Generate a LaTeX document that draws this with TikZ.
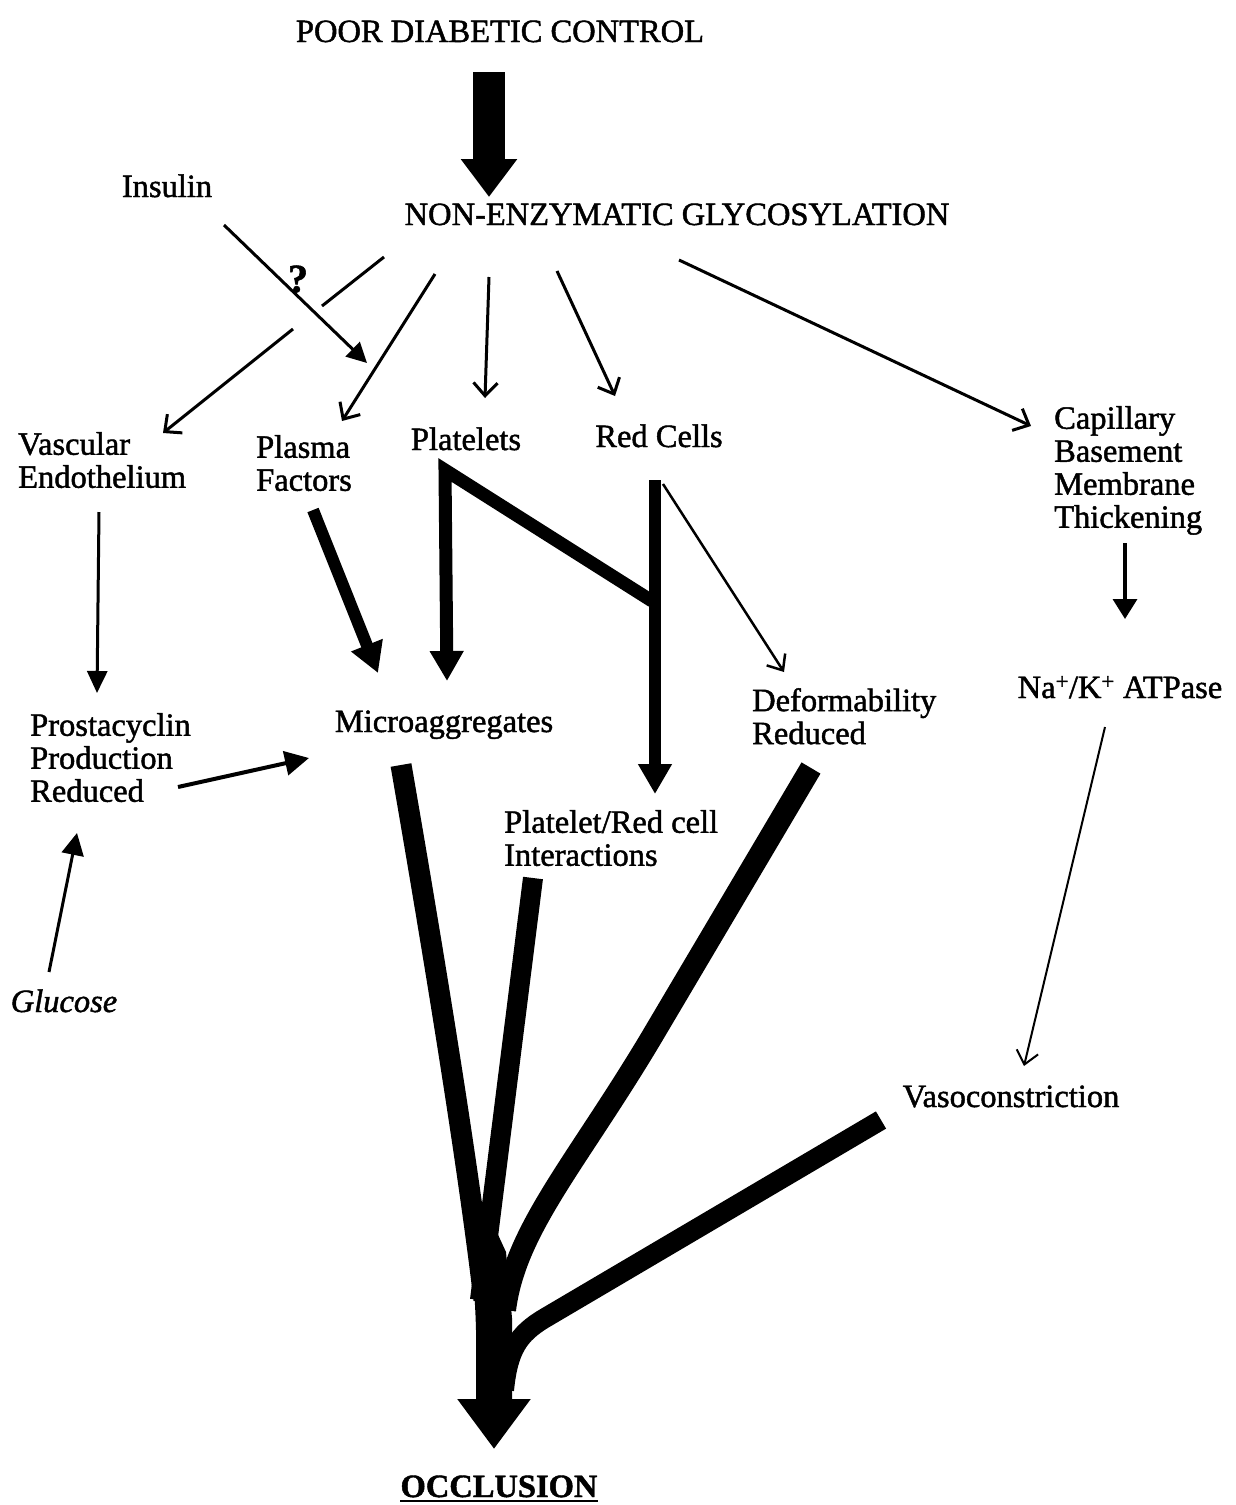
\documentclass[tikz,border=0pt]{standalone}
\usepackage{fontspec}
\setmainfont{Liberation Serif}
\newfontfamily\figfont{Liberation Serif}[FakeBold=1.4]
\usetikzlibrary{arrows.meta}
\begin{document}
\begin{tikzpicture}[x=1pt,y=-1pt,
  lbl/.style={inner sep=0pt, font=\figfont\fontsize{32.5}{33}\selectfont, align=left},
  itlbl/.style={lbl, font=\figfont\fontsize{32.5}{33}\selectfont\itshape},
  bflbl/.style={lbl, font=\figfont\fontsize{32.5}{33}\selectfont\bfseries},
  barb/.style={line width=3pt, -{Straight Barb[length=13pt,width=24pt]}},
  finebarb/.style={line width=2pt, -{Straight Barb[length=13pt,width=22pt]}},
  plain/.style={line width=3pt},
  solid/.style={line width=3pt, -{Triangle[length=22pt,width=20pt]}},
  heavy/.style={line width=12pt, line join=miter, -{Triangle[length=30pt,width=32pt]}},
  strand/.style={line width=21pt, line cap=butt, line join=round},
  bigarrow/.style={line width=32pt, -{Triangle[length=38pt,width=54pt]}},
]
\useasboundingbox (0,0) rectangle (1236,1505);

% ---- labels ----
\node[lbl, anchor=base] (poor) at (500,42) {POOR DIABETIC CONTROL};
\node[lbl, anchor=base] (neg) at (677,225) {NON-ENZYMATIC GLYCOSYLATION};
\node[lbl, anchor=base] (ins) at (167,197) {Insulin};
\node[bflbl, anchor=base, font=\figfont\fontsize{40}{40}\selectfont\bfseries] (qm) at (298,292) {?};
\node[lbl, anchor=north west] (vasc) at (18,432) {Vascular\\Endothelium};
\node[lbl, anchor=north west] (plasma) at (256,435) {Plasma\\Factors};
\node[lbl, anchor=base] (plat) at (466,450) {Platelets};
\node[lbl, anchor=base] (red) at (659,447) {Red Cells};
\node[lbl, anchor=north west] (cap) at (1054,406) {Capillary\\Basement\\Membrane\\Thickening};
\node[lbl, anchor=north west] (prost) at (30,713) {Prostacyclin\\Production\\Reduced};
\node[lbl, anchor=base] (micro) at (444,732) {Microaggregates};
\node[lbl, anchor=north west] (deform) at (752,688) {Deformability\\Reduced};
\node[lbl, anchor=base] (nak) at (1120,698) {Na\textsuperscript{+}/K\textsuperscript{+} ATPase};
\node[lbl, anchor=north west] (pri) at (504,810) {Platelet/Red cell\\Interactions};
\node[itlbl, anchor=base] (glu) at (64,1012) {Glucose};
\node[lbl, anchor=base] (vaso) at (1011,1107) {Vasoconstriction};
\node[bflbl, anchor=base] (occ) at (499,1497) {OCCLUSION};
\draw[line width=2.5pt] ([yshift=-4pt]occ.base west) -- ([yshift=-4pt]occ.base east);

% ---- connector end points ----
\coordinate (poor-out) at (489,72);
\coordinate (neg-in) at (489,197);
\coordinate (ins-out) at (224,225);
\coordinate (ins-in) at (367,363);
\coordinate (neg-vasc) at (384,257);
\coordinate (gap-a) at (322,306);
\coordinate (gap-b) at (293,329);
\coordinate (vasc-in) at (163,433);
\coordinate (neg-plasma) at (435,274);
\coordinate (plasma-in) at (342,421);
\coordinate (neg-plat) at (489,277);
\coordinate (plat-in) at (485,398);
\coordinate (neg-red) at (557,271);
\coordinate (red-in) at (615,396);
\coordinate (neg-cap) at (679,260);
\coordinate (cap-in) at (1031,426);
\coordinate (vasc-out) at (99,512);
\coordinate (prost-in) at (97,693);
\coordinate (plasma-out) at (313,510);
\coordinate (micro-in1) at (378,673);
\coordinate (plat-out) at (445,470);
\coordinate (micro-in2) at (447,681);
\coordinate (red-join) at (652,601);
\coordinate (red-out) at (655,480);
\coordinate (pri-in) at (655,794);
\coordinate (red-side) at (663,484);
\coordinate (deform-in) at (784,672);
\coordinate (cap-out) at (1125,543);
\coordinate (nak-in) at (1125,619);
\coordinate (nak-out) at (1105,727);
\coordinate (vaso-in) at (1024,1066);
\coordinate (prost-out) at (178,787);
\coordinate (micro-in3) at (309,758);
\coordinate (glu-out) at (49,972);
\coordinate (prost-in2) at (77,833);
% thick strands towards occlusion
\coordinate (micro-out) at (401,765);
\coordinate (pri-out) at (533,878);
\coordinate (deform-out) at (811,768);
\coordinate (vaso-out) at (881,1120);
\coordinate (trunk) at (494,1380);
\coordinate (occ-in) at (494,1449);

% ---- connectors ----
\draw[bigarrow] (poor-out) -- (neg-in);
\draw[line width=3pt, -{Triangle[length=20pt,width=20pt]}] (ins-out) -- (ins-in);
\draw[plain] (neg-vasc) -- (gap-a);
\draw[barb] (gap-b) -- (vasc-in);
\draw[barb] (neg-plasma) -- (plasma-in);
\draw[barb] (neg-plat) -- (plat-in);
\draw[barb] (neg-red) -- (red-in);
\draw[barb] (neg-cap) -- (cap-in);
\draw[solid] (vasc-out) -- (prost-in);
\draw[heavy] (plasma-out) -- (micro-in1);
\draw[heavy, line width=13pt] (red-join) -- (plat-out) -- (micro-in2);
\draw[heavy] (red-out) -- (pri-in);
\draw[finebarb, line width=2.5pt] (red-side) -- (deform-in);
\draw[line width=3.5pt, -{Triangle[length=20pt,width=24pt]}] (cap-out) -- (nak-in);
\draw[finebarb] (nak-out) -- (vaso-in);
\draw[line width=4pt, -{Triangle[length=24pt,width=24pt]}] (prost-out) -- (micro-in3);
\draw[line width=3pt, -{Triangle[length=22pt,width=22pt]}] (glu-out) -- (prost-in2);

% converging strands
\draw[strand] (micro-out) .. controls (440,990) and (470,1180) .. (484,1300);
\draw[strand, line width=20pt] (pri-out) -- (480,1300);
\draw[strand, line width=22pt] (deform-out) -- (650,1040) .. controls (575,1165) and (515,1230) .. (505,1310);
\draw[strand, line width=20pt] (vaso-out) -- (545,1318) .. controls (518,1334) and (508,1350) .. (504,1390);
% merged trunk
\fill (466,1215) -- (483,1202) -- (506,1252) -- (512,1318) -- (512,1400)
      -- (476,1400) -- (476,1330) .. controls (475,1290) and (471,1250) .. (466,1215) -- cycle;
\draw[line width=36pt, -{Triangle[length=50pt,width=70pt]}] (trunk) -- (occ-in);
\end{tikzpicture}
\end{document}
